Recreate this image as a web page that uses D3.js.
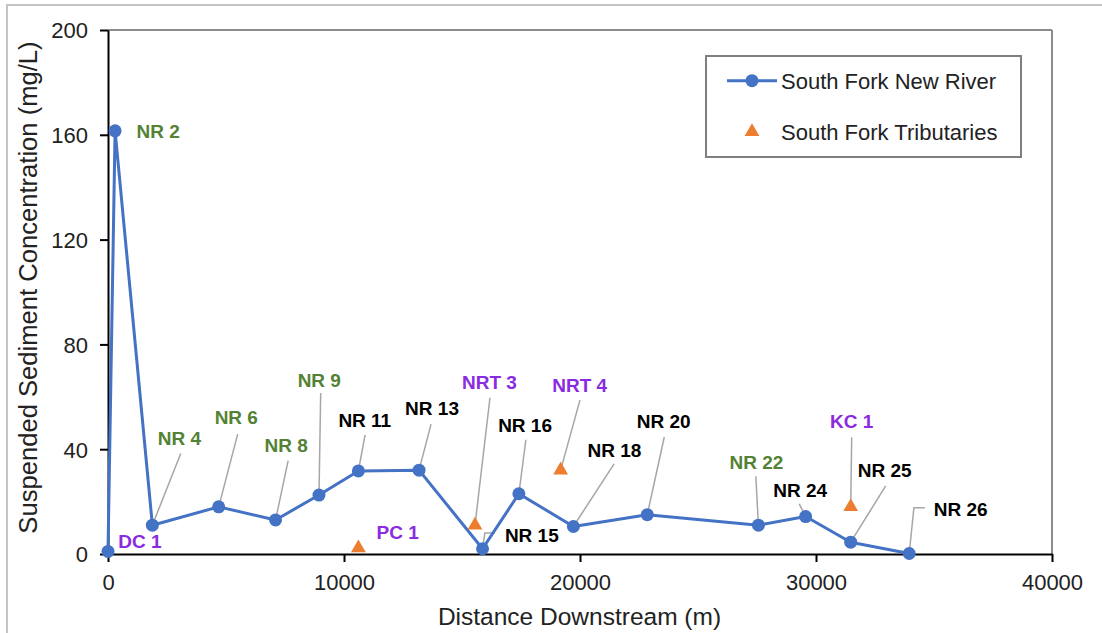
<!DOCTYPE html>
<html>
<head>
<meta charset="utf-8">
<script src="https://cdn.jsdelivr.net/npm/d3@7"></script>
<style>
  html, body { margin: 0; padding: 0; background: #fff; }
  svg { display: block; }
  text { font-family: "Liberation Sans", Arial, sans-serif; }
</style>
</head>
<body>
<svg id="chart" width="1102" height="633"></svg>
<script>
// ---------- data ----------
const riverNames = ["DC 1","NR 2","NR 4","NR 6","NR 8","NR 9","NR 11","NR 13","NR 15","NR 16","NR 18","NR 20","NR 22","NR 24","NR 25","NR 26"];
const riverDistance = [0, 300, 1880, 4690, 7100, 8940, 10610, 13180, 15870, 17410, 19720, 22850, 27560, 29560, 31470, 33950];
const riverSSC = [1, 161.5, 11, 18, 13, 22.5, 31.7, 32, 2, 23, 10.5, 15, 11, 14.3, 4.5, 0.2];

const tribNames = ["PC 1","NRT 3","NRT 4","KC 1"];
const tribDistance = [10610, 15550, 19180, 31470];
const tribSSC = [2.3, 11, 32, 18];

const xTicks = [0, 10000, 20000, 30000, 40000];
const yTicks = [0, 40, 80, 120, 160, 200];
const seriesNames = ["South Fork New River", "South Fork Tributaries"];
const xTitle = "Distance Downstream (m)";
const yTitle = "Suspended Sediment Concentration (mg/L)";

// ---------- label layout (pixel offsets from the point; not data) ----------
// [labelDx, labelDy, colorKey, leaderPoints (offsets) or null]
const riverLabelLayout = [
  [32, -10, "p", null],
  [43, 0, "g", null],
  [27, -87, "g", [[28.4,-71.7]]],
  [17.6, -89.4, "g", [[19,-72.7]]],
  [10.6, -74.3, "g", [[12.6,-59.3]]],
  [0.3, -115, "g", [[1.7,-102]]],
  [6.4, -50.3, "k", [[6.7,-36]]],
  [13, -62, "k", [[12,-46]]],
  [49.3, -14, "k", [[12.3,-15.7],[2.3,-15.7]]],
  [6.2, -68.3, "k", [[7,-54]]],
  [41, -76, "k", [[40.7,-62.7]]],
  [16.4, -93.3, "k", [[17,-77.7]]],
  [-2, -63.4, "g", [[-2.6,-49]]],
  [-5.4, -26, "k", [[-6.4,-12.7]]],
  [34, -71.6, "k", [[35,-56.3]]],
  [51.4, -44, "k", [[15.7,-45.7],[4.7,-45.7]]]
];
const tribLabelLayout = [
  [39.2, -16.3, "p", null],
  [14.5, -143.4, "p", [[15,-127.4]]],
  [19, -85, "p", [[19.3,-70]]],
  [1, -85.4, "p", [[1,-69.4]]]
];
const labelColors = { g: "#548235", p: "#8A2BE2", k: "#000000" };

const blue = "#4472C4", orange = "#ED7D31";

// ---------- chart ----------
const svg = d3.select("#chart");
const x = d3.scaleLinear().domain([0, 40000]).range([108, 1052]);
const y = d3.scaleLinear().domain([0, 200]).range([554, 30]);

// outer chart border
svg.append("rect").attr("x", 7).attr("y", 5).attr("width", 1110).attr("height", 640)
  .attr("fill", "#fff").attr("stroke", "#C4C4C4").attr("stroke-width", 2);

// plot frame top/right (gray)
svg.append("line").attr("x1", x(0)).attr("x2", x(40000)).attr("y1", y(200)).attr("y2", y(200))
  .attr("stroke", "#8C8C8C").attr("stroke-width", 2);
svg.append("line").attr("x1", x(40000)).attr("x2", x(40000)).attr("y1", y(200)).attr("y2", y(0))
  .attr("stroke", "#8C8C8C").attr("stroke-width", 2);

// axes
const yAxis = svg.append("g").attr("transform", `translate(${x(0)},0)`)
  .call(d3.axisLeft(y).tickValues(yTicks).tickSize(8).tickPadding(12).tickSizeOuter(0));
const xAxis = svg.append("g").attr("transform", `translate(0,${y(0)})`)
  .call(d3.axisBottom(x).tickValues(xTicks).tickSize(8).tickSizeOuter(0).tickFormat(d3.format("d")));
[yAxis, xAxis].forEach(a => {
  a.select(".domain").attr("stroke", "#000").attr("stroke-width", 2);
  a.selectAll(".tick line").attr("stroke", "#000").attr("stroke-width", 2);
  a.selectAll(".tick text").attr("fill", "#222").attr("font-size", 22)
    .attr("font-family", "'Liberation Sans', Arial, sans-serif");
});
xAxis.selectAll(".tick text").attr("y", 28).attr("dy", "0.36em");
yAxis.selectAll(".tick text").attr("dy", "0.36em");

// axis titles
svg.append("text").attr("x", 579.5).attr("y", 625).attr("text-anchor", "middle")
  .attr("font-size", 24.5).attr("fill", "#222").text(xTitle);
svg.append("text").attr("transform", "translate(37,287.5) rotate(-90)").attr("text-anchor", "middle")
  .attr("font-size", 25.6).attr("fill", "#222").text(yTitle);

// leader lines
function drawLeaders(dist, vals, layout) {
  layout.forEach((L, i) => {
    if (!L[3]) return;
    const px = x(dist[i]), py = y(vals[i]);
    const pts = L[3].map(o => [px + o[0], py + o[1]]).concat([[px, py]]);
    svg.append("path").attr("d", d3.line()(pts)).attr("fill", "none")
      .attr("stroke", "#A6A6A6").attr("stroke-width", 1.5);
  });
}
drawLeaders(riverDistance, riverSSC, riverLabelLayout);
drawLeaders(tribDistance, tribSSC, tribLabelLayout);

// river line + markers
const river = riverDistance.map((d, i) => ({ d, v: riverSSC[i], n: riverNames[i] }));
svg.append("path").datum(river)
  .attr("d", d3.line().x(p => x(p.d)).y(p => y(p.v)))
  .attr("fill", "none").attr("stroke", blue).attr("stroke-width", 3).attr("stroke-linejoin", "round");
svg.selectAll("circle.river").data(river).join("circle").attr("class", "river")
  .attr("cx", p => x(p.d)).attr("cy", p => y(p.v)).attr("r", 6.5).attr("fill", blue);

// tributary triangles
const trib = tribDistance.map((d, i) => ({ d, v: tribSSC[i], n: tribNames[i] }));
const tri = d3.symbol().type(d3.symbolTriangle).size(95);
svg.selectAll("path.trib").data(trib).join("path").attr("class", "trib")
  .attr("transform", p => `translate(${x(p.d)},${y(p.v)})`).attr("d", tri).attr("fill", orange);

// data labels
function drawLabels(data, layout) {
  data.forEach((p, i) => {
    const L = layout[i];
    svg.append("text").attr("x", x(p.d) + L[0]).attr("y", y(p.v) + L[1]).attr("dy", "0.36em")
      .attr("text-anchor", "middle").attr("font-size", 19).attr("font-weight", "bold")
      .attr("fill", labelColors[L[2]]).text(p.n);
  });
}
drawLabels(river, riverLabelLayout);
drawLabels(trib, tribLabelLayout);

// legend
const lg = svg.append("g");
lg.append("rect").attr("x", 706).attr("y", 56).attr("width", 315).attr("height", 101)
  .attr("fill", "#fff").attr("stroke", "#7F7F7F").attr("stroke-width", 2);
lg.append("line").attr("x1", 727).attr("x2", 777).attr("y1", 80.7).attr("y2", 80.7)
  .attr("stroke", blue).attr("stroke-width", 3);
lg.append("circle").attr("cx", 752).attr("cy", 80.7).attr("r", 6.5).attr("fill", blue);
lg.append("path").attr("transform", "translate(752,131.7)").attr("d", tri).attr("fill", orange);
lg.append("text").attr("x", 781).attr("y", 80.7).attr("dy", "0.36em").attr("font-size", 22)
  .attr("fill", "#222").text(seriesNames[0]);
lg.append("text").attr("x", 781).attr("y", 131.7).attr("dy", "0.36em").attr("font-size", 22)
  .attr("fill", "#222").text(seriesNames[1]);
</script>
</body>
</html>
